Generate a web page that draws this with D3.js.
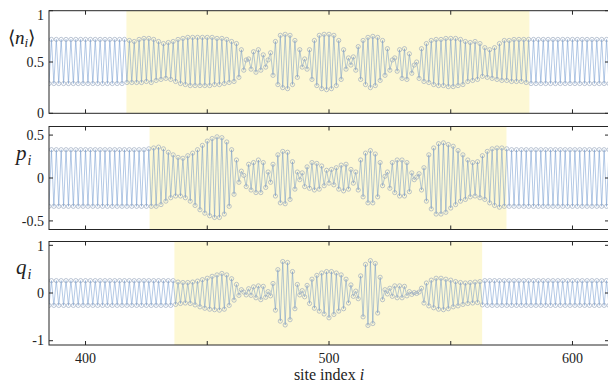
<!DOCTYPE html>
<html>
<head>
<meta charset="utf-8">
<script src="https://cdn.jsdelivr.net/npm/d3@7"></script>
<style>
  body { margin: 0; background: #fff; }
  svg { display: block; }
  text { font-family: "Liberation Serif", "Times New Roman", serif; fill: #222; }
</style>
</head>
<body>
<svg id="chart" width="608" height="385"></svg>
<script>
// site index of the first value in every series
const firstSite = 385;

// <n_i>, sites 385..615
const nValues = [
  .29,.72,.29,.72,.29,.72,.29,.72,.29,.72,
  .29,.72,.29,.72,.29,.72,.29,.72,.29,.72,
  .29,.72,.29,.72,.29,.72,.29,.72,.29,.72,
  .29,.72,.30,.71,.30,.70,.30,.72,.30,.73,
  .31,.73,.30,.72,.32,.70,.33,.68,.34,.69,
  .33,.70,.31,.72,.29,.73,.28,.74,.27,.74,
  .27,.74,.27,.74,.27,.74,.27,.74,.28,.73,
  .28,.73,.29,.72,.30,.70,.31,.68,.35,.62,
  .42,.52,.53,.43,.60,.40,.62,.42,.57,.45,
  .52,.59,.37,.70,.28,.76,.25,.77,.24,.76,
  .28,.71,.35,.62,.45,.53,.43,.62,.33,.71,
  .27,.76,.24,.77,.23,.77,.24,.76,.27,.71,
  .33,.62,.43,.54,.47,.55,.42,.65,.33,.71,
  .28,.74,.25,.75,.27,.74,.32,.71,.37,.63,
  .42,.52,.54,.41,.62,.34,.63,.33,.58,.39,
  .47,.50,.34,.63,.31,.68,.30,.71,.28,.72,
  .27,.72,.27,.73,.26,.73,.26,.73,.27,.72,
  .28,.70,.31,.69,.32,.70,.33,.68,.36,.64,
  .35,.62,.34,.64,.33,.68,.32,.71,.32,.71,
  .31,.72,.31,.72,.31,.72,.30,.72,.29,.72,
  .29,.72,.29,.72,.29,.72,.29,.72,.29,.72,
  .29,.72,.29,.72,.29,.72,.29,.72,.29,.72,
  .29,.72,.29,.72,.29,.72,.29,.72,.29,.72,
  .29
];

// p_i
const pValues = [
  -.33,.33,-.33,.33,-.33,.33,-.33,.33,-.33,.33,
  -.33,.33,-.33,.33,-.33,.33,-.33,.33,-.33,.33,
  -.33,.33,-.33,.33,-.33,.33,-.33,.33,-.33,.33,
  -.33,.33,-.33,.33,-.33,.33,-.33,.33,-.33,.33,
  -.33,.34,-.33,.35,-.33,.36,-.31,.34,-.27,.30,
  -.23,.27,-.21,.24,-.21,.23,-.23,.26,-.27,.29,
  -.32,.33,-.37,.38,-.41,.43,-.44,.46,-.46,.48,
  -.46,.47,-.42,.42,-.33,.33,-.19,.21,-.05,.08,
  .03,-.10,.16,-.14,.18,-.17,.21,-.17,.18,-.11,
  .07,-.05,.16,-.21,.27,-.29,.31,-.30,.30,-.25,
  .19,-.13,.07,-.02,.06,-.10,.13,-.12,.18,-.14,
  .17,-.13,.14,-.09,.09,-.06,.10,-.08,.12,-.13,
  .15,-.15,.16,-.13,.10,-.06,.07,-.14,.21,-.22,
  .29,-.29,.32,-.29,.28,-.22,.18,-.09,.02,.07,
  -.12,.18,-.17,.21,-.21,.21,-.21,.18,-.16,.06,
  -.02,.01,.05,-.14,.12,-.27,.27,-.36,.35,-.42,
  .40,-.42,.41,-.40,.39,-.35,.37,-.31,.32,-.27,
  .27,-.25,.21,-.22,.18,-.21,.19,-.23,.26,-.25,
  .31,-.29,.34,-.32,.35,-.34,.35,-.33,.34,-.33,
  .33,-.33,.33,-.33,.33,-.33,.33,-.33,.33,-.33,
  .33,-.33,.33,-.33,.33,-.33,.33,-.33,.33,-.33,
  .33,-.33,.33,-.33,.33,-.33,.33,-.33,.33,-.33,
  .33,-.33,.33,-.33,.33,-.33,.33,-.33,.33,-.33,
  .33
];

// q_i
const qValues = [
  -.26,.26,-.26,.26,-.26,.26,-.26,.26,-.26,.26,
  -.26,.26,-.26,.26,-.26,.26,-.26,.26,-.26,.26,
  -.26,.26,-.26,.26,-.26,.26,-.26,.26,-.26,.26,
  -.26,.26,-.26,.26,-.26,.26,-.26,.26,-.26,.26,
  -.26,.26,-.26,.26,-.26,.26,-.26,.26,-.26,.26,
  -.26,.26,-.24,.23,-.22,.22,-.21,.22,-.22,.23,
  -.25,.25,-.29,.28,-.32,.31,-.34,.35,-.35,.38,
  -.36,.41,-.34,.38,-.26,.30,-.15,.18,-.05,.07,
  .02,-.04,.09,-.05,.13,-.10,.15,-.14,.14,-.09,
  .03,-.06,.20,-.36,.49,-.59,.66,-.67,.64,-.56,
  .45,-.33,.18,-.04,.05,-.08,.16,-.22,.29,-.32,
  .37,-.38,.42,-.44,.45,-.52,.45,-.45,.42,-.38,
  .38,-.33,.29,-.21,.17,-.07,.04,-.12,.36,-.50,
  .60,-.68,.68,-.64,.62,-.42,.33,-.14,.07,-.02,
  .10,-.07,.15,-.10,.15,-.10,.14,-.06,.03,-.03,
  .01,-.01,.02,.10,-.21,.21,-.27,.27,-.31,.31,
  -.34,.31,-.35,.29,-.33,.27,-.29,.24,-.27,.22,
  -.24,.21,-.22,.22,-.21,.23,-.20,.24,-.25,.26,
  -.26,.26,-.26,.26,-.26,.26,-.26,.26,-.26,.26,
  -.26,.26,-.26,.26,-.26,.26,-.26,.26,-.26,.26,
  -.26,.26,-.26,.26,-.26,.26,-.26,.26,-.26,.26,
  -.26,.26,-.26,.26,-.26,.26,-.26,.26,-.26,.26,
  -.26,.26,-.26,.26,-.26,.26,-.26,.26,-.26,.26,
  -.26
];

const xTicks = [400, 450, 500, 550, 600];
const xTickLabels = [400, 500, 600];
const nTicks = [0, 0.5, 1];
const pTicks = [-0.5, 0, 0.5];
const qTicks = [-1, 0, 1];

// highlighted window of each panel, in site units
const shadeStart = [416.8, 426.3, 436.5];
const shadeEnd = [582.3, 572.9, 562.9];

const svg = d3.select('#chart');
const left = 49, right = 609;
const tickLen = 4;

const x = d3.scaleLinear().domain([385, 615]).range([left, right]);

const panels = [
  { values: nValues, ticks: nTicks, domain: [0, 1], top: 10.7, bottom: 113.3 },
  { values: pValues, ticks: pTicks, domain: [-0.6, 0.6], top: 126.5, bottom: 229.5 },
  { values: qValues, ticks: qTicks, domain: [-1.09, 1.08], top: 241.5, bottom: 345 }
];

panels.forEach((p, k) => {
  const y = d3.scaleLinear().domain(p.domain).range([p.bottom, p.top]);
  const g = svg.append('g');

  const clipId = 'clip' + k;
  svg.append('clipPath').attr('id', clipId)
    .append('rect')
    .attr('x', left).attr('y', p.top)
    .attr('width', right - left).attr('height', p.bottom - p.top);

  const plot = g.append('g').attr('clip-path', `url(#${clipId})`);

  plot.append('rect')
    .attr('x', x(shadeStart[k]))
    .attr('y', p.top)
    .attr('width', x(shadeEnd[k]) - x(shadeStart[k]))
    .attr('height', p.bottom - p.top)
    .attr('fill', '#fdf8d4');

  const pts = p.values.map((v, i) => [firstSite + i, v]);

  const line = d3.line().x(d => x(d[0])).y(d => y(d[1]));
  plot.append('path')
    .datum(pts)
    .attr('d', line)
    .attr('fill', 'none')
    .attr('stroke', '#5a88c8')
    .attr('stroke-width', 0.6)
    .attr('stroke-opacity', 0.75);

  plot.selectAll('circle')
    .data(pts)
    .enter().append('circle')
    .attr('cx', d => x(d[0]))
    .attr('cy', d => y(d[1]))
    .attr('r', 2.1)
    .attr('fill', 'none')
    .attr('stroke', '#97a7be')
    .attr('stroke-width', 0.65);

  // frame
  g.append('rect')
    .attr('x', left).attr('y', p.top)
    .attr('width', right - left).attr('height', p.bottom - p.top)
    .attr('fill', 'none')
    .attr('stroke', '#262626')
    .attr('stroke-width', 1);

  // x ticks, inward on top and bottom
  xTicks.forEach(t => {
    g.append('line')
      .attr('x1', x(t)).attr('x2', x(t))
      .attr('y1', p.bottom).attr('y2', p.bottom - tickLen)
      .attr('stroke', '#262626');
    g.append('line')
      .attr('x1', x(t)).attr('x2', x(t))
      .attr('y1', p.top).attr('y2', p.top + tickLen)
      .attr('stroke', '#262626');
  });

  // y ticks, inward on left and right
  p.ticks.forEach(t => {
    g.append('line')
      .attr('x1', left).attr('x2', left + tickLen)
      .attr('y1', y(t)).attr('y2', y(t))
      .attr('stroke', '#262626');
    g.append('line')
      .attr('x1', right).attr('x2', right - tickLen)
      .attr('y1', y(t)).attr('y2', y(t))
      .attr('stroke', '#262626');
    g.append('text')
      .attr('x', left - 5)
      .attr('y', Math.max(y(t), p.top + 4.5))
      .attr('dy', '0.33em')
      .attr('text-anchor', 'end')
      .attr('font-size', 14)
      .text(String(t));
  });
});

// x tick labels under the last panel
const lastBottom = panels[2].bottom;
xTickLabels.forEach(t => {
  svg.append('text')
    .attr('x', x(t))
    .attr('y', lastBottom + 17.5)
    .attr('text-anchor', 'middle')
    .attr('font-size', 14)
    .text(t);
});

const xl = svg.append('text')
  .attr('x', 329).attr('y', 380)
  .attr('text-anchor', 'middle')
  .attr('font-size', 16);
xl.append('tspan').text('site index ');
xl.append('tspan').attr('font-style', 'italic').text('i');

// y labels
const nl = svg.append('text').attr('x', 8).attr('y', 44).attr('font-size', 19);
nl.append('tspan').text('⟨');
nl.append('tspan').attr('font-style', 'italic').text('n');
nl.append('tspan').attr('font-style', 'italic').attr('font-size', 13).attr('dy', 3).text('i');
nl.append('tspan').attr('dy', -3).text('⟩');

const pl = svg.append('text').attr('x', 16).attr('y', 160).attr('font-size', 21);
pl.append('tspan').attr('font-style', 'italic').text('p');
pl.append('tspan').attr('font-style', 'italic').attr('font-size', 14).attr('dx', 1).attr('dy', 5).text('i');

const ql = svg.append('text').attr('x', 16).attr('y', 274).attr('font-size', 21);
ql.append('tspan').attr('font-style', 'italic').text('q');
ql.append('tspan').attr('font-style', 'italic').attr('font-size', 14).attr('dx', 1).attr('dy', 5).text('i');
</script>
</body>
</html>
